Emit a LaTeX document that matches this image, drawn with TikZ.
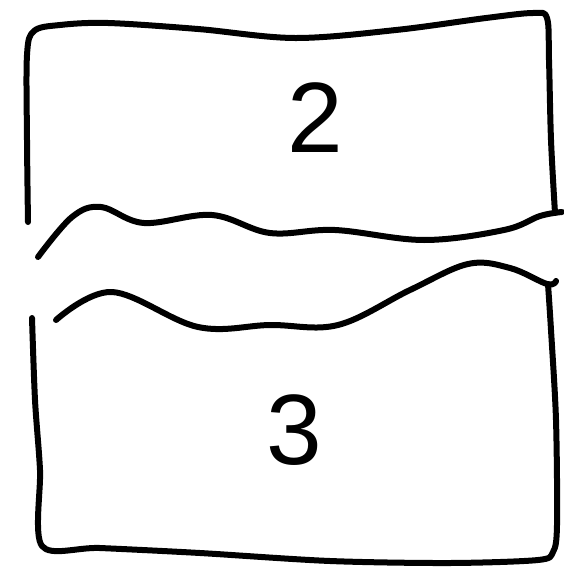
\documentclass[tikz,border=0pt]{standalone}
\usepackage{fontspec}
\setmainfont{Liberation Sans}
\begin{document}
\begin{tikzpicture}[x=1pt,y=-1pt,
  stroke/.style={line width=6pt,line cap=round,line join=round,black},
  digit/.style={font=\fontsize{100}{100}\selectfont,inner sep=0pt}]
\useasboundingbox (0,0) rectangle (564,570);
% top piece outline
\draw[stroke] plot[smooth,tension=0.55] coordinates {(28,222) (27,140) (27,55) (34,31) (60,25) (108,23) (198,29) (295,38) (396,30) (486,18) (533,13) (547,18) (549,60) (551,140) (555,213)};
% upper wavy edge
\draw[stroke] plot[smooth,tension=0.6] coordinates {(38,257) (72,217) (101,207) (144,223) (212,215) (270,233) (335,230) (424,240) (504,230) (540,216) (562,212)};
% lower wavy edge
\draw[stroke] plot[smooth,tension=0.6] coordinates {(56,320) (112,292) (198,327) (270,325) (338,325) (410,290) (468,264) (510,268) (547,284) (556,281)};
% bottom piece outline
\draw[stroke] plot[smooth,tension=0.5] coordinates {(32,318) (35,400) (40,470) (42,546) (100,548) (200,553) (330,561) (450,563) (538,560) (553,552) (557,525) (556,420) (551,330) (548,284)};
\node[digit] (two) at (315,118) {2};
\node[digit] (three) at (294,430) {3};
\end{tikzpicture}
\end{document}
